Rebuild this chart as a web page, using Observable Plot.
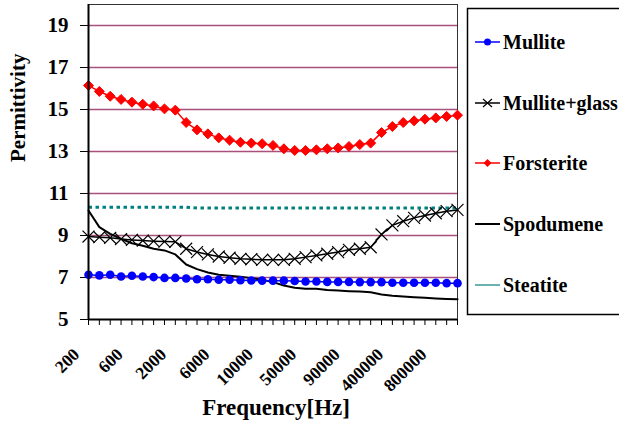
<!DOCTYPE html>
<html><head><meta charset="utf-8">
<script src="https://cdn.jsdelivr.net/npm/d3@7"></script>
<script src="https://cdn.jsdelivr.net/npm/@observablehq/plot@0.6"></script>
<style>
body{margin:0;background:#fff;}
#wrap{position:relative;width:619px;height:430px;overflow:hidden;}
#wrap svg text{font-family:"Liberation Serif","Times New Roman",serif;font-weight:bold;}
#legend{position:absolute;left:0;top:0;}
</style>
</head><body>
<div id="wrap"></div>
<script>
const frequencies = ["200","300","400","500","600","700","800","1000","2000","3000","4000","5000","6000","7000","8000","9000","10000","20000","30000","40000","50000","60000","70000","80000","90000","100000","200000","300000","400000","500000","600000","700000","800000","900000","1000000"];
const shownLabels = ["200","600","2000","6000","10000","50000","90000","400000","800000"];
const yTicks = [5,7,9,11,13,15,17,19];
const gridValues = [7,9,11,13,15,17,19];

const mullite = [7.13,7.10,7.13,7.05,7.08,7.05,7.02,6.98,6.98,6.95,6.92,6.92,6.89,6.89,6.87,6.86,6.85,6.85,6.85,6.83,6.81,6.81,6.79,6.79,6.79,6.78,6.78,6.78,6.75,6.75,6.75,6.75,6.75,6.73,6.73];
const mulliteGlass = [8.95,8.92,8.89,8.83,8.79,8.76,8.73,8.71,8.70,8.37,8.21,8.10,8.00,7.94,7.89,7.87,7.84,7.84,7.84,7.89,7.97,8.05,8.13,8.21,8.32,8.37,8.44,9.05,9.48,9.68,9.84,9.95,10.06,10.16,10.22];
const forsterite = [16.14,15.86,15.63,15.48,15.35,15.25,15.17,15.03,14.97,14.38,14.03,13.84,13.65,13.54,13.44,13.40,13.37,13.29,13.13,13.05,13.05,13.08,13.13,13.17,13.24,13.33,13.40,13.90,14.19,14.38,14.46,14.54,14.60,14.67,14.73];
const spodumene = [10.19,9.40,9.08,8.84,8.63,8.51,8.37,8.29,8.10,7.62,7.40,7.24,7.13,7.08,7.03,6.97,6.89,6.78,6.62,6.51,6.46,6.46,6.41,6.38,6.35,6.33,6.30,6.19,6.13,6.10,6.06,6.03,6.00,5.98,5.97];
const steatite = [10.35,10.35,10.35,10.35,10.35,10.35,10.35,10.35,10.35,10.35,10.31,10.31,10.31,10.31,10.31,10.31,10.31,10.31,10.31,10.31,10.31,10.31,10.31,10.31,10.31,10.31,10.31,10.31,10.31,10.31,10.31,10.31,10.31,10.31,10.31];

const seriesNames = ["Mullite","Mullite+glass","Forsterite","Spodumene","Steatite"];
const seriesColors = ["#0000ff","#000000","#ff0000","#000000","#008080"];

const idx = frequencies.map((f,i)=>i);
const toRows = (arr) => arr.map((v,i)=>({i, f:frequencies[i], v}));
const rMullite = toRows(mullite), rGlass = toRows(mulliteGlass), rFor = toRows(forsterite), rSpod = toRows(spodumene), rSteat = toRows(steatite);
const labelRows = shownLabels.map(s => ({i: frequencies.indexOf(s), s}));

const chart = Plot.plot({
  width: 619, height: 430,
  marginLeft: 88, marginRight: 162, marginTop: 4, marginBottom: 111,
  inset: 0,
  style: {fontWeight: "bold", background: "white", color: "black", fontFamily: "Liberation Serif"},
  x: {type: "linear", domain: [0, frequencies.length - 1], range: [88, 457], inset: 0},
  y: {domain: [5, 20], range: [319, 4]},
  marks: [
    Plot.ruleY(gridValues, {stroke: "#993366", strokeWidth: 1.5, strokeOpacity: 0.85}),
    Plot.frame({stroke: "#333", strokeWidth: 1}),
    Plot.axisY(yTicks, {tickSize: 8, tickPadding: 12, fontSize: 21, label: null, stroke: "black"}),
    Plot.axisX(idx, {tickSize: 6, tickFormat: () => "", label: null}),
    Plot.text(labelRows, {x: "i", frameAnchor: "bottom", text: "s", rotate: -45, textAnchor: "end", lineAnchor: "bottom", dx: -8, dy: 36, fontSize: 17.5, fontWeight: "bold"}),
    Plot.text(["Permittivity"], {frameAnchor: "left", text: d => d, rotate: -90, dx: -70, fontSize: 21, fontWeight: "bold"}),
    Plot.text(["Frequency[Hz]"], {frameAnchor: "bottom", text: d => d, dy: 95, dx: 3, fontSize: 23, fontWeight: "bold"}),
    Plot.line(rSteat, {x: "i", y: "v", stroke: "#008080", strokeWidth: 3, strokeDasharray: "3.5,3.5", strokeLinecap: "butt"}),
    Plot.line(rSpod, {x: "i", y: "v", stroke: "black", strokeWidth: 2}),
    Plot.line(rGlass, {x: "i", y: "v", stroke: "black", strokeWidth: 1.5}),
    Plot.dot(rGlass, {x: "i", y: "v", symbol: "times", stroke: "black", strokeWidth: 1.2, r: 5.5}),
    Plot.line(rFor, {x: "i", y: "v", stroke: "#ff0000", strokeWidth: 1.5}),
    Plot.dot(rFor, {x: "i", y: "v", symbol: "diamond2", fill: "#ff0000", stroke: "#ff0000", strokeWidth: 1, r: 4.5}),
    Plot.line(rMullite, {x: "i", y: "v", stroke: "#0000ff", strokeWidth: 1.5}),
    Plot.dot(rMullite, {x: "i", y: "v", symbol: "circle", fill: "#0000ff", stroke: "none", r: 4.3}),
    Plot.ruleX([0], {stroke: "black", strokeWidth: 2}),
    Plot.ruleY([5], {stroke: "black", strokeWidth: 2})
  ]
});
const wrap = document.getElementById("wrap");
wrap.appendChild(chart);

// legend
const svg = d3.select(wrap).append("svg").attr("id","legend").attr("width",619).attr("height",430);
svg.append("rect").attr("x",467.5).attr("y",8.5).attr("width",170).attr("height",306).attr("fill","white").attr("stroke","black").attr("stroke-width",1.5);
const itemY = [42, 103, 163, 224, 285];
seriesNames.forEach((name,i)=>{
  const y = itemY[i];
  const g = svg.append("g");
  g.append("line").attr("x1",475).attr("x2",500).attr("y1",y).attr("y2",y)
    .attr("stroke", i===4 ? "#3a9a9a" : seriesColors[i]).attr("stroke-width", i===3 ? 2 : 1.5);
  if (i===0) g.append("circle").attr("cx",487.5).attr("cy",y).attr("r",3.5).attr("fill","#0000ff");
  if (i===1) g.append("path").attr("d",`M${483},${y-4}L${492},${y+4}M${483},${y+4}L${492},${y-4}`).attr("stroke","black").attr("stroke-width",1.2);
  if (i===2) g.append("path").attr("d",`M487.5,${y-4}L491.5,${y}L487.5,${y+4}L483.5,${y}Z`).attr("fill","#ff0000");
  g.append("text").attr("x",503).attr("y",y+7).attr("font-size",20).attr("fill","black").text(name);
});
</script>
</body></html>
